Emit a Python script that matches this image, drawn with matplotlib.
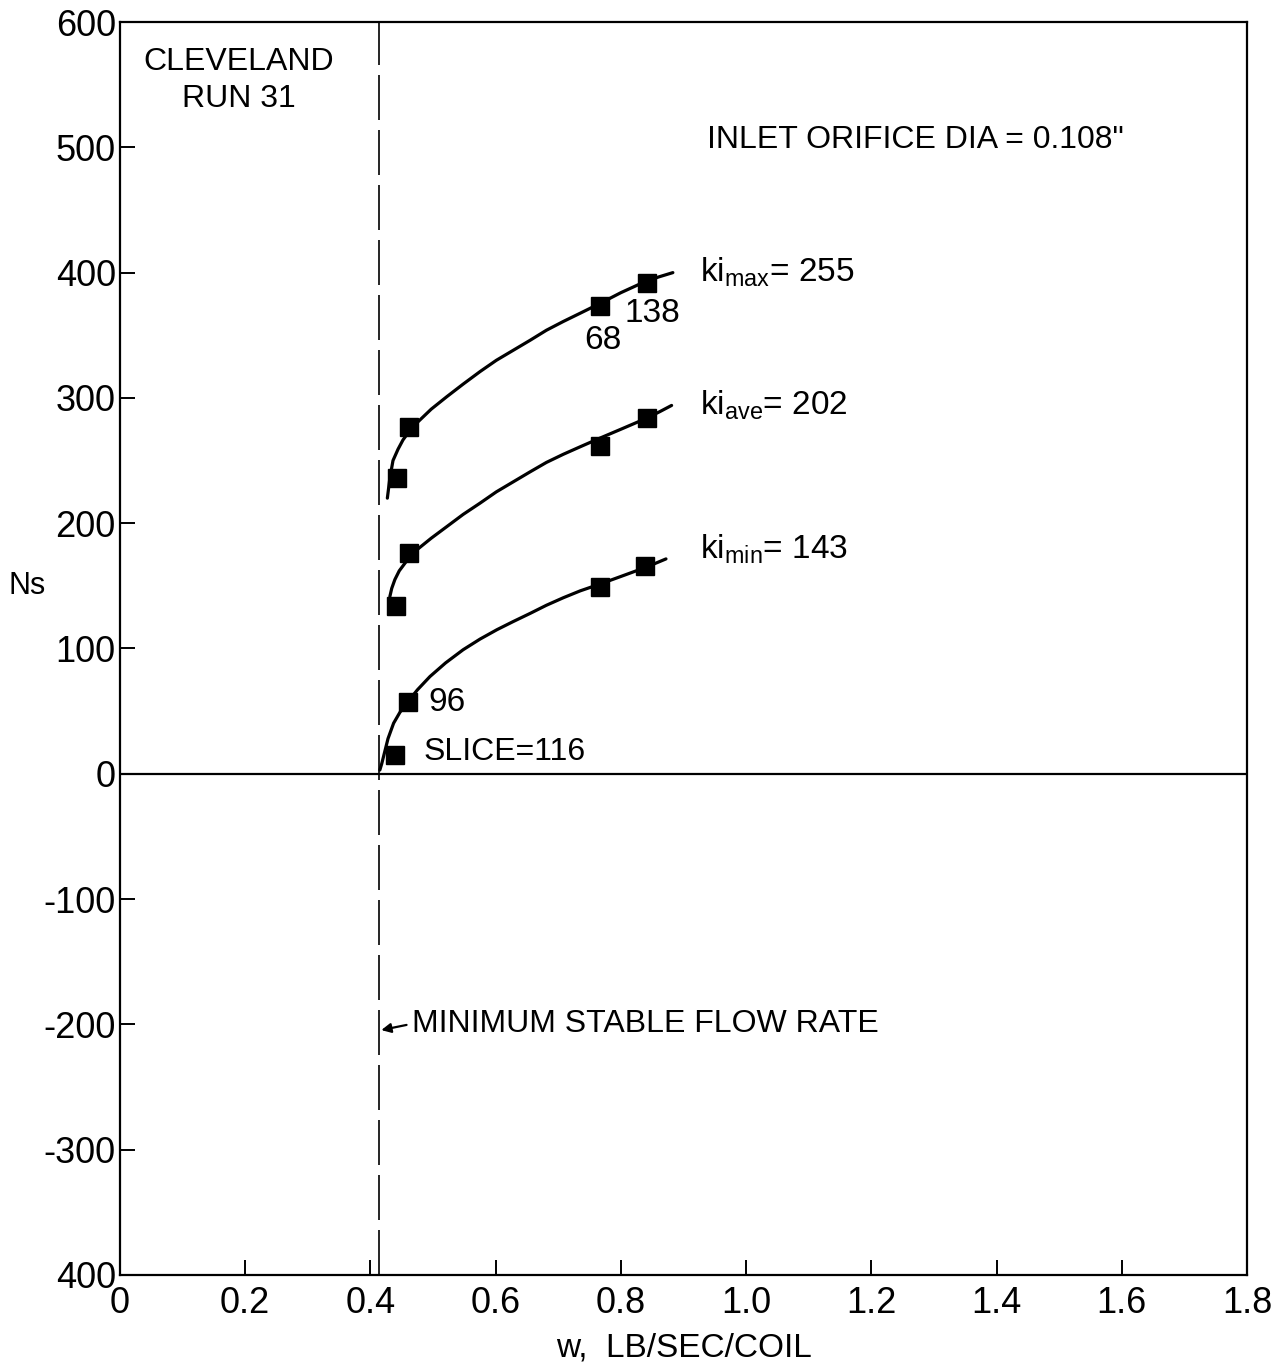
import matplotlib
matplotlib.use("Agg")
import matplotlib.pyplot as plt
import numpy as np

plt.rcParams['font.family'] = ['Liberation Sans Narrow', 'Liberation Sans', 'DejaVu Sans']
plt.rcParams['mathtext.default'] = 'regular'

# measured points (w, Ns)
w_max = [0.442, 0.462, 0.767, 0.842]
ns_max = [236, 277, 373, 392]
w_ave = [0.441, 0.462, 0.767, 0.842]
ns_ave = [134, 176, 262, 284]
w_min = [0.439, 0.460, 0.767, 0.838]
ns_min = [15, 57, 149, 166]

# faired curves
curve_max_w = [0.427, 0.431, 0.436, 0.444, 0.452, 0.463, 0.474, 0.497, 0.522, 0.548,
               0.575, 0.601, 0.628, 0.655, 0.681, 0.708, 0.735, 0.767, 0.800, 0.835, 0.860, 0.883]
curve_max_ns = [220, 236, 250, 259, 266.5, 274, 280, 291, 301, 311,
                321, 330, 338, 346, 354, 361, 367.6, 375.5, 384, 392, 396.5, 400]
curve_ave_w = [0.431, 0.434, 0.439, 0.446, 0.455, 0.464, 0.474, 0.497, 0.522, 0.548,
               0.575, 0.601, 0.628, 0.655, 0.681, 0.708, 0.735, 0.767, 0.800, 0.842, 0.862, 0.881]
curve_ave_ns = [141.5, 148, 155, 162, 168, 174, 178.7, 188, 197.3, 207,
                216, 225, 233, 241, 248.5, 255, 261, 268, 275, 284, 289, 294]
curve_min_w = [0.415, 0.418, 0.421, 0.428, 0.437, 0.447, 0.458, 0.475, 0.495, 0.520,
               0.548, 0.575, 0.602, 0.628, 0.655, 0.681, 0.708, 0.735, 0.767, 0.800, 0.841, 0.872]
curve_min_ns = [3, 8, 14, 28, 40.4, 49, 56.4, 67, 77.6, 88.5,
                99, 107.5, 115, 121.5, 128, 134.5, 140.5, 146, 151.5, 157.5, 165, 171.5]

w_min_stable = 0.413

x_ticks = [0, 0.2, 0.4, 0.6, 0.8, 1.0, 1.2, 1.4, 1.6, 1.8]
x_labels = ['0', '0.2', '0.4', '0.6', '0.8', '1.0', '1.2', '1.4', '1.6', '1.8']
y_ticks = [-400, -300, -200, -100, 0, 100, 200, 300, 400, 500, 600]
y_labels = ['400', '-300', '-200', '-100', '0', '100', '200', '300', '400', '500', '600']

fig = plt.figure(figsize=(12.74, 13.69), dpi=100)
ax = fig.add_axes([0.0942, 0.0687, 0.8846, 0.9152])

ax.set_xlim(0, 1.8)
ax.set_ylim(-400, 600)

for s in ax.spines.values():
    s.set_linewidth(1.6)

ax.axhline(0, color='black', lw=1.6)
ax.axvline(w_min_stable, color='black', lw=1.2, linestyle=(0, (27, 6)))

for cw, cn in [(curve_max_w, curve_max_ns), (curve_ave_w, curve_ave_ns), (curve_min_w, curve_min_ns)]:
    ax.plot(cw, cn, color='black', lw=2.3, solid_capstyle='round', solid_joinstyle='round')

for pw, pn in [(w_max, ns_max), (w_ave, ns_ave), (w_min, ns_min)]:
    ax.plot(pw, pn, linestyle='none', marker='s', markersize=13, color='black')

ax.set_xticks(x_ticks)
ax.set_xticklabels(x_labels, fontfamily=['Liberation Sans', 'DejaVu Sans'])
ax.set_yticks(y_ticks)
ax.set_yticklabels(y_labels, fontfamily=['Liberation Sans', 'DejaVu Sans'])
ax.tick_params(axis='both', direction='in', length=11, width=1.4, labelsize=26)
ax.tick_params(axis='x', pad=8)
ax.tick_params(axis='y', pad=3)

fs = 23
ax.text(0.19, 553, 'CLEVELAND\nRUN 31', fontsize=fs, ha='center', va='center', linespacing=1.3)
ax.text(0.937, 506, 'INLET ORIFICE DIA = 0.108"', fontsize=fs, ha='left', va='center')
ax.text(0.926, 400, 'ki$_{max}$= 255', fontsize=fs + 1, ha='left', va='center')
ax.text(0.926, 294, 'ki$_{ave}$= 202', fontsize=fs + 1, ha='left', va='center')
ax.text(0.926, 179, 'ki$_{min}$= 143', fontsize=fs + 1, ha='left', va='center')
ax.text(0.850, 367, '138', fontsize=fs + 1, ha='center', va='center')
ax.text(0.771, 346, '68', fontsize=fs + 1, ha='center', va='center')
ax.text(0.492, 57, '96', fontsize=fs + 1, ha='left', va='center')
ax.text(0.485, 17, 'SLICE=116', fontsize=fs, ha='left', va='center')
ax.text(0.466, -200, 'MINIMUM STABLE FLOW RATE', fontsize=fs, ha='left', va='center')
ax.annotate('', xy=(w_min_stable, -205), xytext=(0.462, -200),
            arrowprops=dict(arrowstyle='-|>', color='black', lw=1.6, mutation_scale=14))

ax.set_xlabel('w,  LB/SEC/COIL', fontsize=fs + 1, labelpad=8)
fig.text(0.021, 0.572, 'Ns', fontsize=22, ha='center', va='center')

fig.savefig('out.png', dpi=100)
